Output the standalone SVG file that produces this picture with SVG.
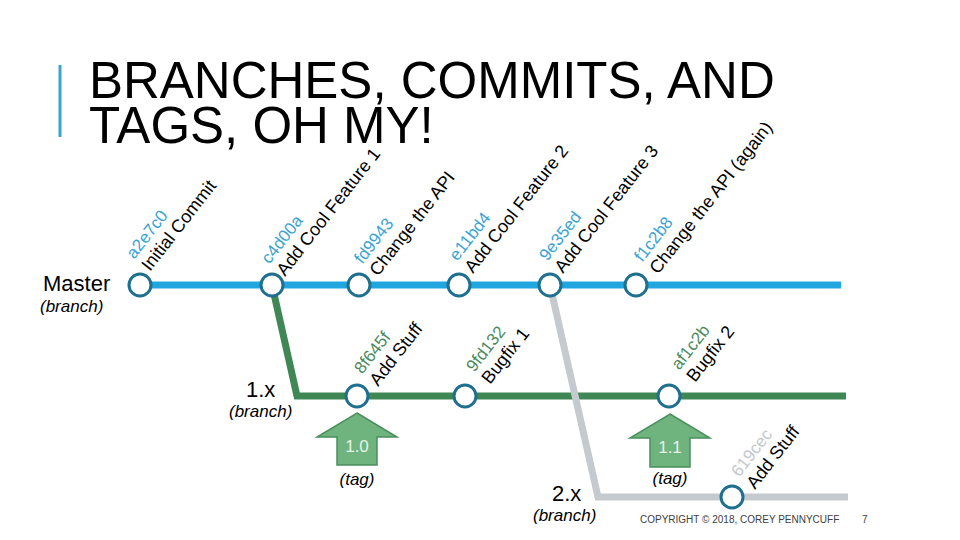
<svg xmlns="http://www.w3.org/2000/svg" width="960" height="540" viewBox="0 0 960 540">
<style>
text{font-family:"Liberation Sans",Arial,sans-serif;}
.title{font-size:51px;fill:#000;}
.lbl{font-size:18px;fill:#000;}
.hb{font-size:17px;fill:#3aa3d2;}
.hg{font-size:17px;fill:#4a8a5d;}
.hy{font-size:17px;fill:#c3c8cc;}
.br{font-size:22px;fill:#000;}
.it{font-size:17px;font-style:italic;fill:#000;}
.commit{fill:#fff;stroke:#1f6f8f;stroke-width:3;}
.tag{fill:#6fb47e;stroke:#4a8f5c;stroke-width:1.5;}
.tagt{font-size:17px;fill:#e6f2e8;text-anchor:middle;}
.ln{fill:none;stroke-width:7;stroke-linejoin:miter;}
.foot{font-size:10px;fill:#404040;}
</style>
<rect width="960" height="540" fill="#fff"/>
<line x1="60" y1="65" x2="60" y2="137" stroke="#3aa3d2" stroke-width="3"/>
<text class="title"><tspan x="89" y="98">BRANCHES, COMMITS, AND</tspan><tspan x="89" y="143">TAGS, OH MY!</tspan></text>

<g id="connectors">
<line class="ln" x1="140" y1="285" x2="841" y2="285" stroke="#22a6df"/>
<polyline class="ln" points="272,285 297,396 846,396" stroke="#3f8755"/>
<polyline class="ln" points="550,285 598,497 848,497" stroke="#c5cace"/>
</g>

<g id="master-label">
<text class="br" x="43" y="291">Master</text>
<text class="it" x="40" y="312">(branch)</text>
</g>
<g id="b1x-label">
<text class="br" x="246" y="397">1.x</text>
<text class="it" x="229" y="417">(branch)</text>
</g>
<g id="b2x-label">
<text class="br" x="552" y="501">2.x</text>
<text class="it" x="533" y="521">(branch)</text>
</g>

<g id="a2e7c0">
<circle class="commit" cx="140" cy="285" r="11"/>
<g transform="translate(150,272) rotate(-52)"><text class="hb" x="0" y="-20">a2e7c0</text><text class="lbl" x="0" y="0">Initial Commit</text></g>
</g>
<g id="c4d00a">
<circle class="commit" cx="272" cy="285" r="11"/>
<g transform="translate(285,277) rotate(-52)"><text class="hb" x="0" y="-20">c4d00a</text><text class="lbl" x="0" y="0">Add Cool Feature 1</text></g>
</g>
<g id="fd9943">
<circle class="commit" cx="359" cy="285" r="11"/>
<g transform="translate(378,277) rotate(-52)"><text class="hb" x="0" y="-20">fd9943</text><text class="lbl" x="0" y="0">Change the API</text></g>
</g>
<g id="e11bd4">
<circle class="commit" cx="459" cy="285" r="11"/>
<g transform="translate(473,274) rotate(-52)"><text class="hb" x="0" y="-20">e11bd4</text><text class="lbl" x="0" y="0">Add Cool Feature 2</text></g>
</g>
<g id="n9e35ed">
<circle class="commit" cx="550" cy="285" r="11"/>
<g transform="translate(563,274) rotate(-52)"><text class="hb" x="0" y="-20">9e35ed</text><text class="lbl" x="0" y="0">Add Cool Feature 3</text></g>
</g>
<g id="f1c2b8">
<circle class="commit" cx="636" cy="285" r="11"/>
<g transform="translate(658,275) rotate(-52)"><text class="hb" x="0" y="-20">f1c2b8</text><text class="lbl" x="0" y="0">Change the API (again)</text></g>
</g>

<g id="n8f645f">
<circle class="commit" cx="357" cy="396" r="11"/>
<g transform="translate(378,387) rotate(-52)"><text class="hg" x="0" y="-20">8f645f</text><text class="lbl" x="0" y="0">Add Stuff</text></g>
</g>
<g id="n9fd132">
<circle class="commit" cx="465" cy="396" r="11"/>
<g transform="translate(490,385) rotate(-52)"><text class="hg" x="0" y="-20">9fd132</text><text class="lbl" x="0" y="0">Bugfix 1</text></g>
</g>
<g id="af1c2b">
<circle class="commit" cx="669" cy="396" r="11"/>
<g transform="translate(695,383) rotate(-52)"><text class="hg" x="0" y="-20">af1c2b</text><text class="lbl" x="0" y="0">Bugfix 2</text></g>
</g>
<g id="n619cec">
<circle class="commit" cx="732" cy="497" r="11"/>
<g transform="translate(755,490) rotate(-52)"><text class="hy" x="0" y="-20">619cec</text><text class="lbl" x="0" y="0">Add Stuff</text></g>
</g>

<g id="tag10">
<polygon class="tag" points="357,413 397,437 377,437 377,465 337,465 337,437 317,437"/>
<text class="tagt" x="357" y="452">1.0</text>
<text class="it" x="357" y="485" text-anchor="middle">(tag)</text>
</g>
<g id="tag11">
<polygon class="tag" points="670,414 710,438 690,438 690,467 650,467 650,438 630,438"/>
<text class="tagt" x="670" y="453">1.1</text>
<text class="it" x="670" y="484" text-anchor="middle">(tag)</text>
</g>

<text class="foot" x="640" y="523">COPYRIGHT © 2018, COREY PENNYCUFF</text>
<text class="foot" x="862" y="523">7</text>
</svg>
